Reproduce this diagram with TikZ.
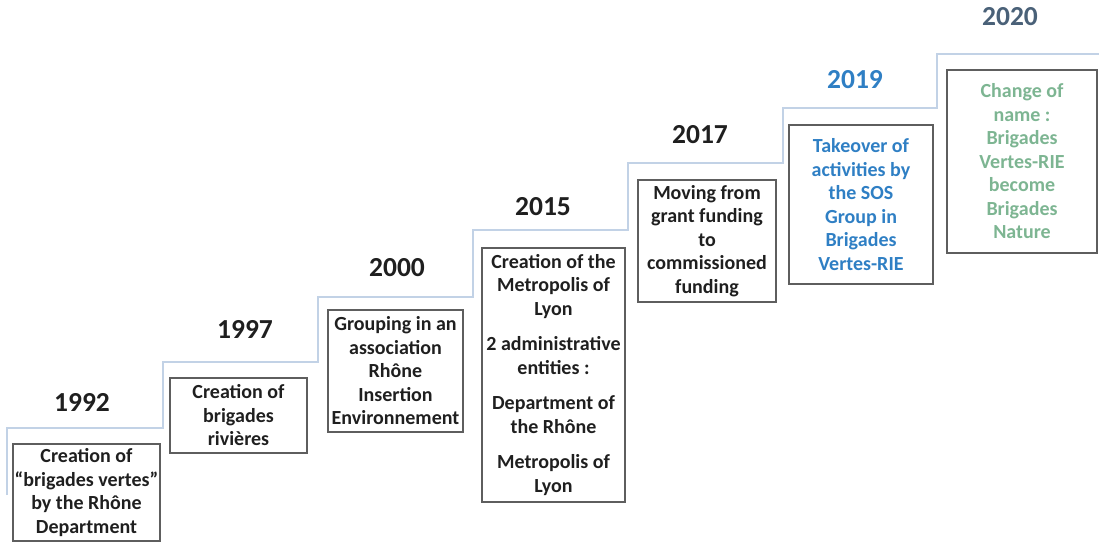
\documentclass[tikz,border=0pt]{standalone}
\usepackage{fontspec}
\setmainfont{Carlito}
\usepackage{tikz}
\definecolor{stairblue}{HTML}{C2D2E6}
\definecolor{boxgray}{HTML}{5E5E5E}
\definecolor{yearblue}{HTML}{2F7FC4}
\definecolor{yearslate}{HTML}{4A6178}
\definecolor{softgreen}{HTML}{7DB592}

\begin{document}
\begin{tikzpicture}[x=1pt, y=-1pt,
      year/.style = {font=\bfseries\fontsize{27.5}{30}\selectfont, text=black!88},
      event/.style = {draw=boxgray, line width=1.3pt, align=center, inner sep=1pt,
                      font=\bfseries\fontsize{20}{23.5}\selectfont, text=black!88}]
    \useasboundingbox (0,0) rectangle (1099,544);
    \draw[stairblue, line width=1.8pt] (7,495) |- (163,428) |- (318,362) |- (473,297)
      |- (628,230) |- (783,163) |- (937,108) |- (1099,54);

    \node[year] (y1992) at (82,402) {1992};
    \node[event, minimum width=147, minimum height=97] (e1992) at (86.5,492.5)
      {Creation of\\“brigades vertes”\\by the Rhône\\Department};

    \node[year] (y1997) at (245,329) {1997};
    \node[event, minimum width=137, minimum height=75] (e1997) at (238.5,415.5)
      {Creation of\\brigades\\rivières};

    \node[year] (y2000) at (397,268) {2000};
    \node[event, minimum width=135, minimum height=122] (e2000) at (395.5,371)
      {Grouping in an\\association\\Rhône\\Insertion\\Environnement};

    \node[year] (y2015) at (543,207) {2015};
    \node[event, minimum width=143, minimum height=254] (e2015) at (553.5,375)
      {Creation of the\\Metropolis of\\Lyon\\[12pt]2 administrative\\entities :\\[12pt]Department of\\the Rhône\\[12pt]Metropolis of\\Lyon};

    \node[year] (y2017) at (700,135) {2017};
    \node[event, minimum width=138, minimum height=122] (e2017) at (707,241)
      {Moving from\\grant funding\\to\\commissioned\\funding};

    \node[year, text=yearblue] (y2019) at (855,80) {2019};
    \node[event, text=yearblue, minimum width=144, minimum height=159] (e2019) at (861,204.5)
      {Takeover of\\activities by\\the SOS\\Group in\\Brigades\\Vertes-RIE};

    \node[year, text=yearslate] (y2020) at (1010,17) {2020};
    \node[event, text=softgreen, minimum width=150, minimum height=183] (e2020) at (1022,161.5)
      {Change of\\name :\\Brigades\\Vertes-RIE\\become\\Brigades\\Nature};
\end{tikzpicture}
\end{document}
